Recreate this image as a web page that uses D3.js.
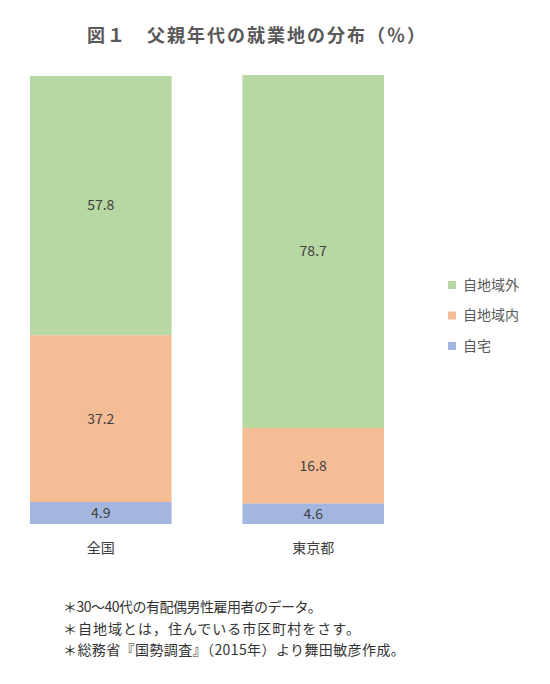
<!DOCTYPE html>
<html>
<head>
<meta charset="utf-8">
<script src="https://cdn.jsdelivr.net/npm/d3@7"></script>
<style>
  body { margin: 0; background: #fff; }
  svg text { font-family: "Noto Sans CJK JP", "Noto Sans", sans-serif; }
</style>
</head>
<body>
<svg id="chart" width="550" height="684"></svg>
<script>
// data
var categories = ["全国", "東京都"];
var seriesNames = ["自宅", "自地域内", "自地域外"];
var jitaku = [4.9, 4.6];
var jichiikiNai = [37.2, 16.8];
var jichiikiGai = [57.8, 78.7];
var notes = [
  "＊30～40代の有配偶男性雇用者のデータ。",
  "＊自地域とは，住んでいる市区町村をさす。",
  "＊総務省『国勢調査』（2015年）より舞田敏彦作成。"
];
var colors = ["#a4b6e0", "#f5bd96", "#b7d7a3"];

var svg = d3.select("#chart");

// title
svg.append("text")
  .attr("x", 257).attr("y", 42)
  .attr("text-anchor", "middle")
  .attr("font-size", 18).attr("font-weight", "bold")
  .attr("letter-spacing", 2)
  .attr("fill", "#595959")
  .text("図１　父親年代の就業地の分布（％）");

var x = d3.scaleBand().domain(categories).range([30, 384]).paddingInner(1 / 3).paddingOuter(0);
var y = d3.scaleLinear().domain([0, 100]).range([524, 75.5]);

// build stacked rows
var rows = categories.map(function(c, i) {
  return { cat: c, "自宅": jitaku[i], "自地域内": jichiikiNai[i], "自地域外": jichiikiGai[i] };
});
var stacked = d3.stack().keys(seriesNames)(rows);

var layer = svg.selectAll("g.layer")
  .data(stacked)
  .enter().append("g")
  .attr("class", "layer")
  .attr("fill", function(d, i) { return colors[i]; });

layer.selectAll("rect")
  .data(function(d) { return d; })
  .enter().append("rect")
  .attr("x", function(d) { return x(d.data.cat); })
  .attr("width", x.bandwidth())
  .attr("y", function(d) { return y(d[1]); })
  .attr("height", function(d) { return y(d[0]) - y(d[1]); });

// value labels
layer.selectAll("text")
  .data(function(d) { return d; })
  .enter().append("text")
  .attr("x", function(d) { return x(d.data.cat) + x.bandwidth() / 2; })
  .attr("y", function(d) { return (y(d[0]) + y(d[1])) / 2; })
  .attr("dy", "0.35em")
  .attr("text-anchor", "middle")
  .attr("font-size", 14)
  .attr("fill", "#404040")
  .text(function(d) { return (d[1] - d[0]).toFixed(1); });

// category axis labels
svg.selectAll("text.cat")
  .data(categories)
  .enter().append("text")
  .attr("class", "cat")
  .attr("x", function(d) { return x(d) + x.bandwidth() / 2; })
  .attr("y", 553)
  .attr("text-anchor", "middle")
  .attr("font-size", 14)
  .attr("fill", "#404040")
  .text(function(d) { return d; });

// legend (top entry = outermost series)
var legendOrder = seriesNames.slice().reverse();
var legend = svg.selectAll("g.legend")
  .data(legendOrder)
  .enter().append("g")
  .attr("class", "legend")
  .attr("transform", function(d, i) { return "translate(448," + (285 + i * 30.5) + ")"; });
legend.append("rect")
  .attr("x", 0).attr("y", -4)
  .attr("width", 8).attr("height", 8)
  .attr("fill", function(d) { return colors[seriesNames.indexOf(d)]; });
legend.append("text")
  .attr("x", 15).attr("dy", "0.35em")
  .attr("font-size", 14)
  .attr("fill", "#595959")
  .text(function(d) { return d; });

// notes
var noteSpacing = [-0.5, 1, 0.4];
svg.selectAll("text.note")
  .data(notes)
  .enter().append("text")
  .attr("class", "note")
  .attr("x", 63)
  .attr("y", function(d, i) { return 612 + i * 21.5; })
  .attr("font-size", 14)
  .attr("letter-spacing", function(d, i) { return noteSpacing[i]; })
  .attr("fill", "#333")
  .text(function(d) { return d; });
</script>
</body>
</html>
